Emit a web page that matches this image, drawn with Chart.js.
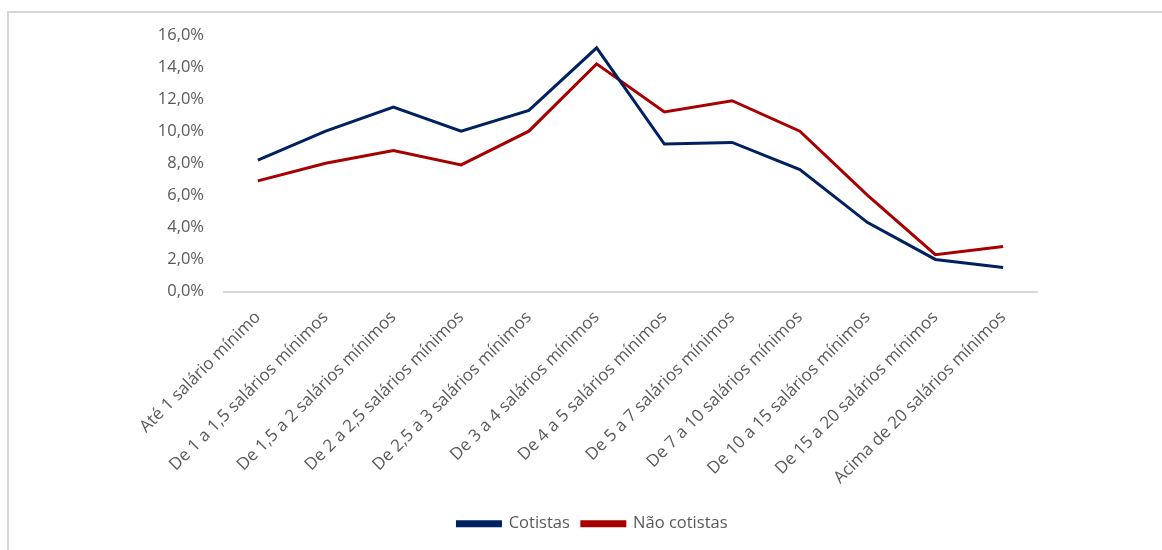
<!DOCTYPE html>
<html>
<head>
<meta charset="utf-8">
<script src="https://cdn.jsdelivr.net/npm/chart.js@4/dist/chart.umd.min.js"></script>
<style>
    html, body { margin: 0; padding: 0; background: #fff; }
    #wrap { position: relative; width: 1162px; height: 550px; }
    #frame { position: absolute; left: 7px; top: 11px; right: 0; bottom: 0; border-top: 2px solid #d6d6d6; border-left: 2px solid #d6d6d6; }
    canvas { position: absolute; left: 0; top: 0; }
</style>
</head>
<body>
<div id="wrap">
    <div id="frame"></div>
    <canvas id="graph" width="1162" height="550"></canvas>
</div>
<script>
var faixas = [
    "Até 1 salário mínimo",
    "De 1 a 1,5 salários mínimos",
    "De 1,5 a 2 salários mínimos",
    "De 2 a 2,5 salários mínimos",
    "De 2,5 a 3 salários mínimos",
    "De 3 a 4 salários mínimos",
    "De 4 a 5 salários mínimos",
    "De 5 a 7 salários mínimos",
    "De 7 a 10 salários mínimos",
    "De 10 a 15 salários mínimos",
    "De 15 a 20 salários mínimos",
    "Acima de 20 salários mínimos"
];
var cotistas     = [8.2, 10.0, 11.5, 10.0, 11.3, 15.2, 9.2, 9.3, 7.6, 4.3, 2.0, 1.5];
var naoCotistas  = [6.9, 8.0, 8.8, 7.9, 10.0, 14.2, 11.2, 11.9, 10.0, 6.0, 2.3, 2.8];
var yTicks       = [0, 2, 4, 6, 8, 10, 12, 14, 16];

var familia = "'Open Sans', sans-serif";

// legend sits centred on the whole frame, not just the plot area
var shiftLegend = {
    id: "shiftLegend",
    afterLayout: (chart) => {
        chart.legend.left += 24;
        chart.legend.right += 24;
    }
};

var chart = new Chart(document.getElementById("graph").getContext("2d"), {
    type: "line",
    data: {
        labels: faixas,
        datasets: [{
            label: "Cotistas",
            data: cotistas,
            borderColor: "#002060",
            backgroundColor: "#002060",
            borderWidth: 3,
            pointRadius: 0,
            tension: 0
        }, {
            label: "Não cotistas",
            data: naoCotistas,
            borderColor: "#a80000",
            backgroundColor: "#a80000",
            borderWidth: 3,
            pointRadius: 0,
            tension: 0
        }]
    },
    plugins: [shiftLegend],
    options: {
        responsive: false,
        animation: false,
        layout: { padding: { left: 100, right: 125, top: 35, bottom: 8 } },
        plugins: {
            tooltip: { enabled: false },
            legend: {
                position: "bottom",
                labels: {
                    color: "#595959",
                    font: { family: familia, size: 16.5 },
                    boxWidth: 43,
                    boxHeight: 4,
                    padding: 12
                }
            }
        },
        scales: {
            x: {
                offset: true,
                grid: { display: false, offset: true },
                border: { display: true, color: "#d9d9d9", width: 2 },
                ticks: {
                    color: "#595959",
                    font: { family: familia, size: 17 },
                    minRotation: 45,
                    maxRotation: 45,
                    padding: 8
                },
                afterFit: (s) => { s.height = 212; }
            },
            y: {
                min: 0,
                max: 16,
                grid: { display: false },
                border: { display: false },
                afterBuildTicks: (s) => { s.ticks = yTicks.map(v => ({ value: v })); },
                ticks: {
                    color: "#595959",
                    font: { family: familia, size: 16.5 },
                    padding: 12,
                    callback: (v) => v.toFixed(1).replace(".", ",") + "%"
                },
                afterFit: (s) => { s.width = 124; }
            }
        }
    }
});
</script>
</body>
</html>
